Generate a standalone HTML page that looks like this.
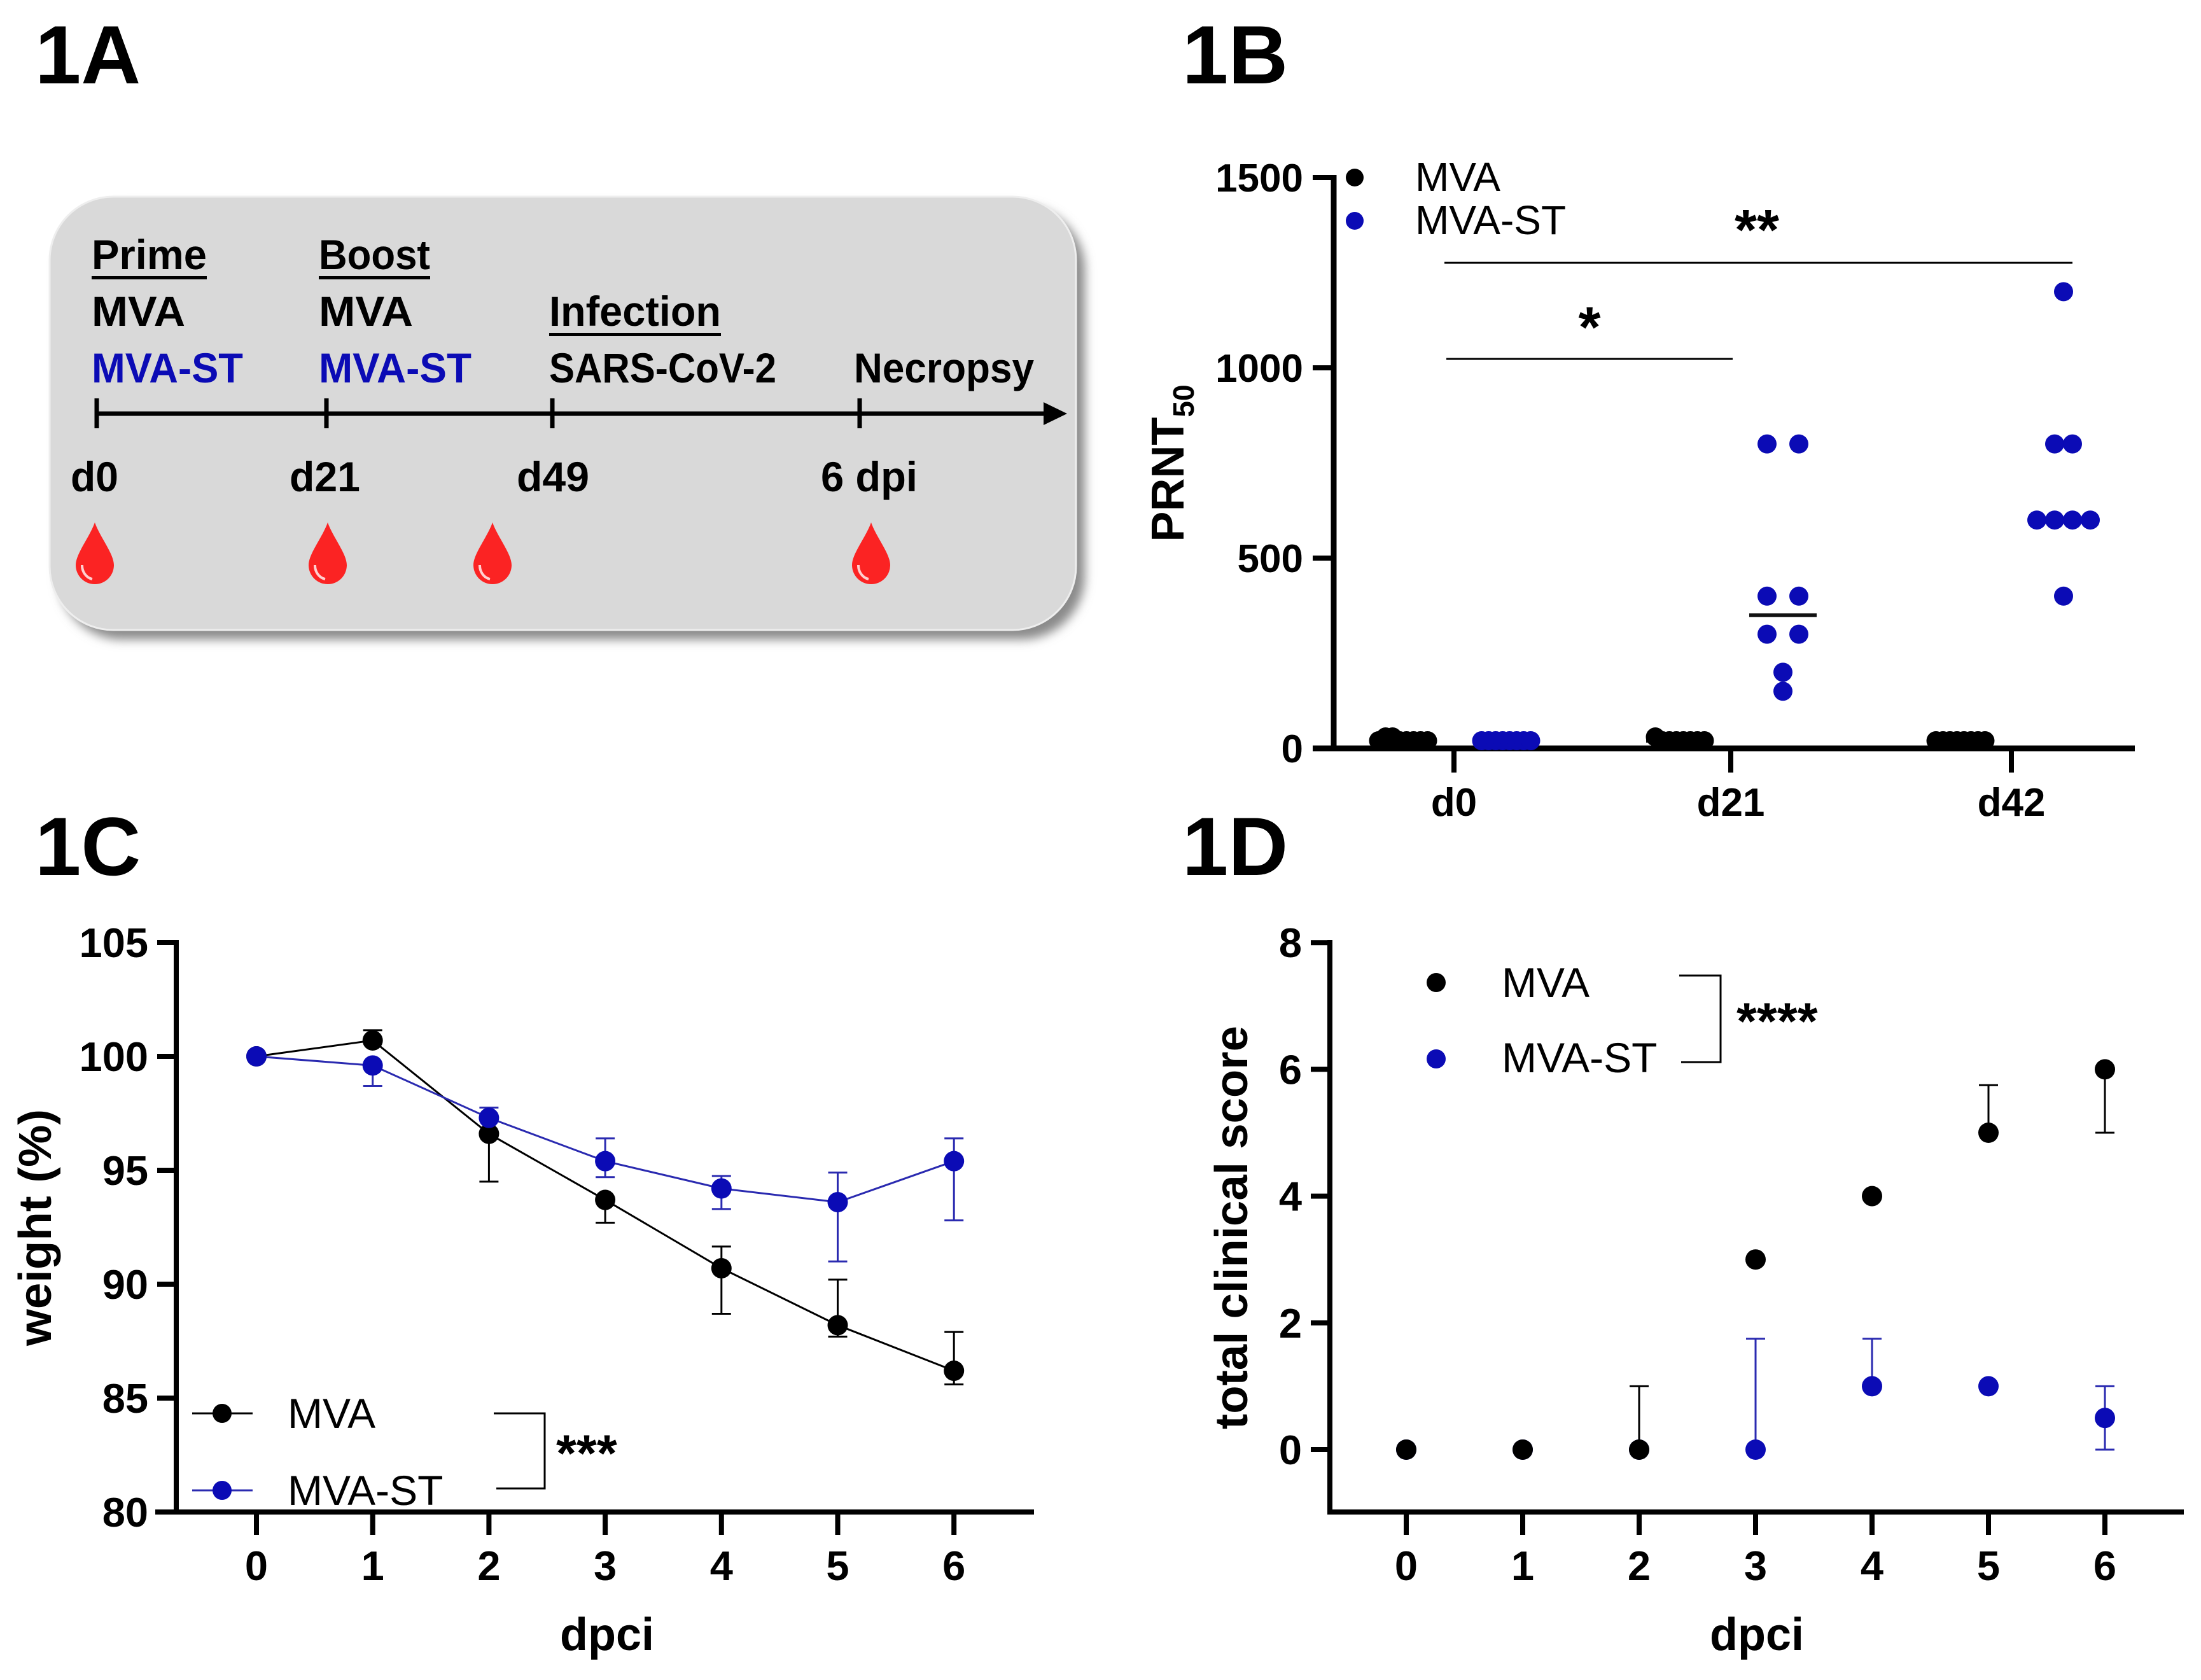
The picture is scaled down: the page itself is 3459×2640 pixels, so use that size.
<!DOCTYPE html>
<html><head><meta charset="utf-8"><style>
html,body{margin:0;padding:0;background:#fff;}
svg{display:block;font-family:"Liberation Sans",sans-serif;}
</style></head><body>
<svg id="fig" xmlns="http://www.w3.org/2000/svg" width="3459" height="2640" viewBox="0 0 3459 2640">
<defs>
<filter id="sh" x="-10%" y="-10%" width="130%" height="130%"><feGaussianBlur stdDeviation="8"/></filter>
</defs>
<!-- Panel A -->
<g>
<text x="55" y="131" font-size="130" font-weight="bold">1A</text>
<rect x="92" y="324" width="1613" height="681" rx="100" fill="#8a8a8a" filter="url(#sh)"/>
<rect x="78" y="309" width="1613" height="681" rx="100" fill="#d9d9d9" stroke="#eeeeee" stroke-width="3"/>
<g font-weight="bold" font-size="66">
<text x="144" y="423" textLength="181" lengthAdjust="spacingAndGlyphs">Prime</text>
<rect x="144" y="434" width="181" height="5"/>
<text x="501" y="423" textLength="175" lengthAdjust="spacingAndGlyphs">Boost</text>
<rect x="501" y="434" width="175" height="5"/>
<text x="144" y="512" textLength="147" lengthAdjust="spacingAndGlyphs">MVA</text>
<text x="501" y="512" textLength="148" lengthAdjust="spacingAndGlyphs">MVA</text>
<text x="863" y="512" textLength="270" lengthAdjust="spacingAndGlyphs">Infection</text>
<rect x="863" y="523" width="270" height="5"/>
<text x="144" y="601" fill="#0b0bb5" textLength="238" lengthAdjust="spacingAndGlyphs">MVA-ST</text>
<text x="501" y="601" fill="#0b0bb5" textLength="240" lengthAdjust="spacingAndGlyphs">MVA-ST</text>
<text x="863" y="601" textLength="357" lengthAdjust="spacingAndGlyphs">SARS-CoV-2</text>
<text x="1342" y="601" textLength="283" lengthAdjust="spacingAndGlyphs">Necropsy</text>
<text x="111" y="772" textLength="75" lengthAdjust="spacingAndGlyphs">d0</text>
<text x="455" y="772" textLength="111" lengthAdjust="spacingAndGlyphs">d21</text>
<text x="812" y="772" textLength="114" lengthAdjust="spacingAndGlyphs">d49</text>
<text x="1290" y="772" textLength="152" lengthAdjust="spacingAndGlyphs">6 dpi</text>
</g>
<line x1="152" y1="650" x2="1650" y2="650" stroke="#000" stroke-width="7"/>
<polygon points="1640,632 1677,650 1640,668" fill="#000"/>
<g stroke="#000" stroke-width="7">
<line x1="152" y1="626" x2="152" y2="673"/>
<line x1="513" y1="626" x2="513" y2="673"/>
<line x1="868" y1="626" x2="868" y2="673"/>
<line x1="1351" y1="626" x2="1351" y2="673"/>
</g>
<g id="drops"></g>
</g>
<!-- Panel labels -->
<text x="1858" y="131" font-size="130" font-weight="bold">1B</text>
<text x="55" y="1375" font-size="130" font-weight="bold">1C</text>
<text x="1858" y="1375" font-size="130" font-weight="bold">1D</text>
<g id="pb"></g>
<g id="pc"></g>
<g id="pd"></g>
</svg>
<script>
// ---------- Panel B data ----------
const bCategories = ['d0', 'd21', 'd42'];
const bMVA = [[20, 30, 30, 20, 20, 20, 20, 20], [30, 20, 20, 20, 20, 20, 20, 20], [20, 20, 20, 20, 20, 20, 20, 20]];
const bMVAST = [[20, 20, 20, 20, 20, 20, 20, 20], [800, 800, 400, 400, 300, 300, 200, 150], [1200, 800, 800, 600, 600, 600, 600, 400]];
const bYTicks = [0, 500, 1000, 1500];
// ---------- Panel C data ----------
const cDays = [0, 1, 2, 3, 4, 5, 6];
const cMVA = [100, 100.7, 96.6, 93.7, 90.7, 88.2, 86.2];
const cMVAUp = [0, 0.45, 0, 0, 0.95, 2.0, 1.7];
const cMVADown = [0, 0, 2.1, 1.0, 2.0, 0.5, 0.6];
const cMVAST = [100, 99.6, 97.3, 95.4, 94.2, 93.6, 95.4];
const cMVASTUp = [0, 0, 0.45, 1.0, 0.55, 1.3, 1.0];
const cMVASTDown = [0, 0.9, 0, 0.7, 0.9, 2.6, 2.6];
const cYTicks = [80, 85, 90, 95, 100, 105];
// ---------- Panel D data ----------
const dDays = [0, 1, 2, 3, 4, 5, 6];
const dMVA = [0, 0, 0, 3, 4, 5, 6];
const dMVAUp = [0, 0, 1, 0, 0, 0.75, 0];
const dMVADown = [0, 0, 0, 0, 0, 0, 1];
const dMVAST = [0, 0, 0, 0, 1, 1, 0.5];
const dMVASTUp = [0, 0, 0, 1.75, 0.75, 0, 0.5];
const dMVASTDown = [0, 0, 0, 0, 0, 0, 0.5];
const dYTicks = [0, 2, 4, 6, 8];

const NS = 'http://www.w3.org/2000/svg';
const BLUE = '#0b0bb5';
function mk(tag, attrs, parent) {
  const e = document.createElementNS(NS, tag);
  for (const k in attrs) e.setAttribute(k, attrs[k]);
  parent.appendChild(e);
  return e;
}

// ---------- drops ----------
const dropG = document.getElementById('drops');
[149, 515, 774, 1369].forEach(function (cx) {
  const g = mk('g', {transform: 'translate(' + cx + ',868)'}, dropG);
  
  
  const p = mk('path', {d: 'M0,-47 C8,-24 30,2 30,20 A30,30 0 0 1 -30,20 C-30,2 -8,-24 0,-47Z', fill: '#fb2323'}, g);
  
  
  const h = mk('path', {d: 'M-20,20 A20,22 0 0 0 -4,42', fill: 'none', stroke: '#ffd0d0', 'stroke-width': 4}, g);
  
  
});

// ---------- Panel B ----------
(function () {
  const P = document.getElementById('pb');
  const y0 = 1176, yTop = 279, xAxis = 2096;
  const yB = function (v) { return y0 - v * (y0 - yTop) / 1500; };
  const catX = [2285, 2720, 3161];
  const xB = function (i) { return catX[i]; };
  const spacing = [44, 50, 28];
  let e;
  e = mk('line', {x1: xAxis, y1: yTop - 4, x2: xAxis, y2: y0 + 4, stroke: '#000', 'stroke-width': 9}, P);
  
  
  e = mk('line', {x1: 2063, y1: y0, x2: 3355, y2: y0, stroke: '#000', 'stroke-width': 9}, P);
  
  
  bYTicks.forEach(function (t) {
    const tk = mk('line', {x1: 2063, y1: yB(t), x2: xAxis, y2: yB(t), stroke: '#000', 'stroke-width': 8}, P);
    
    
    const tl = mk('text', {x: 2048, y: yB(t) + 22, 'text-anchor': 'end', 'font-size': 62, 'font-weight': 'bold'}, P);
    
    
    tl.textContent = t;
  });
  bCategories.forEach(function (c, i) {
    const tk = mk('line', {x1: xB(i), y1: y0, x2: xB(i), y2: 1214, stroke: '#000', 'stroke-width': 8}, P);
    
    
    const tl = mk('text', {x: xB(i), y: 1282, 'text-anchor': 'middle', 'font-size': 62, 'font-weight': 'bold'}, P);
    
    
    tl.textContent = c;
  });
  const yl = mk('text', {transform: 'translate(1860,728) rotate(-90)', 'text-anchor': 'middle', 'font-size': 72, 'font-weight': 'bold'}, P);
  
  
  yl.innerHTML = 'PRNT<tspan font-size="46" dy="16">50</tspan>';

  function swarm(vals, cx, sp, color, name) {
    const sorted = vals.slice().sort(function (a, b) { return a - b; });
    const n = sorted.length;
    const med = n % 2 ? sorted[(n - 1) / 2] : (sorted[n / 2 - 1] + sorted[n / 2]) / 2;
    const m = mk('line', {x1: cx - 53, y1: yB(med), x2: cx + 53, y2: yB(med), stroke: '#111', 'stroke-width': 6}, P);
    
    
    const rows = {};
    vals.forEach(function (v) { const k = v < 60 ? 'low' : v; (rows[k] = rows[k] || []).push(v); });
    Object.keys(rows).forEach(function (k) {
      const r = rows[k];
      const s = k === 'low' ? 11 : sp;
      r.forEach(function (v, j) {
        const d = mk('circle', {cx: cx + (j - (r.length - 1) / 2) * s, cy: yB(v), r: 15, fill: color}, P);
        
        
      });
    });
  }
  bCategories.forEach(function (c, i) {
    swarm(bMVA[i], xB(i) - 80, spacing[i], '#000', 'b-mva-point');
    swarm(bMVAST[i], xB(i) + 82, spacing[i], BLUE, 'b-mva-st-point');
  });
  // legend
  e = mk('circle', {cx: 2129, cy: 279, r: 14, fill: '#000'}, P);
  
  
  e = mk('text', {x: 2224, y: 300, 'font-size': 64}, P);
  
  
  e.textContent = 'MVA';
  e = mk('circle', {cx: 2129, cy: 347, r: 14, fill: BLUE}, P);
  
  
  e = mk('text', {x: 2224, y: 368, 'font-size': 64}, P);
  
  
  e.textContent = 'MVA-ST';
  // significance
  e = mk('line', {x1: 2270, y1: 413, x2: 3257, y2: 413, stroke: '#000', 'stroke-width': 3}, P);
  
  
  e = mk('text', {x: 2761, y: 392, 'text-anchor': 'middle', 'font-size': 90, 'font-weight': 'bold'}, P);
  
  
  e.textContent = '**';
  e = mk('line', {x1: 2273, y1: 564, x2: 2723, y2: 564, stroke: '#000', 'stroke-width': 3}, P);
  
  
  e = mk('text', {x: 2498, y: 545, 'text-anchor': 'middle', 'font-size': 90, 'font-weight': 'bold'}, P);
  
  
  e.textContent = '*';
})();

// ---------- shared time-course axes ----------
function timeAxes(P, pre, opt) {
  let e;
  e = mk('line', {x1: opt.ax, y1: opt.yTop - 4, x2: opt.ax, y2: opt.yBot + 4, stroke: '#000', 'stroke-width': 8}, P);
  
  
  e = mk('line', {x1: opt.xl, y1: opt.yBot, x2: opt.xr, y2: opt.yBot, stroke: '#000', 'stroke-width': 8}, P);
  
  
  opt.yticks.forEach(function (t) {
    const tk = mk('line', {x1: opt.ax - 30, y1: opt.y(t), x2: opt.ax, y2: opt.y(t), stroke: '#000', 'stroke-width': 8}, P);
    
    
    const tl = mk('text', {x: opt.ax - 44, y: opt.y(t) + 23, 'text-anchor': 'end', 'font-size': 65, 'font-weight': 'bold'}, P);
    
    
    tl.textContent = t;
  });
  opt.days.forEach(function (d) {
    const tk = mk('line', {x1: opt.x(d), y1: opt.yBot, x2: opt.x(d), y2: opt.yBot + 36, stroke: '#000', 'stroke-width': 8}, P);
    
    
    const tl = mk('text', {x: opt.x(d), y: opt.yBot + 107, 'text-anchor': 'middle', 'font-size': 65, 'font-weight': 'bold'}, P);
    
    
    tl.textContent = d;
  });
  e = mk('text', {x: opt.xTitleX, y: 2593, 'text-anchor': 'middle', 'font-size': 72, 'font-weight': 'bold'}, P);
  
  
  e.textContent = 'dpci';
  e = mk('text', {transform: 'translate(' + opt.yTitleX + ',1929) rotate(-90)', 'text-anchor': 'middle', 'font-size': 72, 'font-weight': 'bold', textLength: opt.yTitleLen, lengthAdjust: 'spacingAndGlyphs'}, P);
  
  
  e.textContent = opt.yTitle;
}
function errBars(P, days, vals, up, down, x, y, color, name) {
  days.forEach(function (d, i) {
    [[up[i], 1], [down[i], -1]].forEach(function (pr) {
      if (pr[0] <= 0) return;
      const yy = y(vals[i] + pr[1] * pr[0]);
      const l = mk('line', {x1: x(d), y1: y(vals[i]), x2: x(d), y2: yy, stroke: color, 'stroke-width': 3}, P);
      
      
      const c = mk('line', {x1: x(d) - 15, y1: yy, x2: x(d) + 15, y2: yy, stroke: color, 'stroke-width': 3}, P);
      
      
    });
  });
}
function points(P, days, vals, x, y, color, name) {
  days.forEach(function (d, i) {
    const c = mk('circle', {cx: x(d), cy: y(vals[i]), r: 16, fill: color}, P);
    
    
  });
}

// ---------- Panel C ----------
(function () {
  const P = document.getElementById('pc');
  const xC = function (d) { return 403 + d * 182.7; };
  const yC = function (v) { return 2376 - (v - 80) * 35.8; };
  timeAxes(P, 'c', {ax: 277, yTop: 1481, yBot: 2376, xl: 244, xr: 1625, x: xC, y: yC, yticks: cYTicks, days: cDays, xTitleX: 954, yTitleX: 80, yTitle: 'weight (%)', yTitleLen: 372});
  let e;
  e = mk('polyline', {points: cDays.map(function (d, i) { return xC(d) + ',' + yC(cMVA[i]); }).join(' '), fill: 'none', stroke: '#000', 'stroke-width': 3}, P);
  
  
  errBars(P, cDays, cMVA, cMVAUp, cMVADown, xC, yC, '#000', 'c-mva-error-bar');
  points(P, cDays, cMVA, xC, yC, '#000', 'c-mva-point');
  e = mk('polyline', {points: cDays.map(function (d, i) { return xC(d) + ',' + yC(cMVAST[i]); }).join(' '), fill: 'none', stroke: '#2a2ab0', 'stroke-width': 3}, P);
  
  
  errBars(P, cDays, cMVAST, cMVASTUp, cMVASTDown, xC, yC, '#2a2ab0', 'c-mva-st-error-bar');
  points(P, cDays, cMVAST, xC, yC, BLUE, 'c-mva-st-point');
  // legend
  e = mk('line', {x1: 302, y1: 2221, x2: 397, y2: 2221, stroke: '#000', 'stroke-width': 3}, P);
  
  
  e = mk('circle', {cx: 349, cy: 2221, r: 15, fill: '#000'}, P);
  
  
  e = mk('text', {x: 452, y: 2244, 'font-size': 66}, P);
  
  
  e.textContent = 'MVA';
  e = mk('line', {x1: 302, y1: 2342, x2: 397, y2: 2342, stroke: '#2a2ab0', 'stroke-width': 3}, P);
  
  
  e = mk('circle', {cx: 349, cy: 2342, r: 15, fill: BLUE}, P);
  
  
  e = mk('text', {x: 452, y: 2365, 'font-size': 66}, P);
  
  
  e.textContent = 'MVA-ST';
  e = mk('polyline', {points: '776,2221 856,2221 856,2339 780,2339', fill: 'none', stroke: '#000', 'stroke-width': 3}, P);
  
  
  e = mk('text', {x: 874, y: 2312, 'font-size': 82, 'font-weight': 'bold'}, P);
  
  
  e.textContent = '***';
})();

// ---------- Panel D ----------
(function () {
  const P = document.getElementById('pd');
  const xD = function (d) { return 2210 + d * 183; };
  const yD = function (v) { return 2278 - v * 99.6; };
  timeAxes(P, 'd', {ax: 2090, yTop: 1481, yBot: 2376, xl: 2090, xr: 3432, x: xD, y: yD, yticks: dYTicks, days: dDays, xTitleX: 2761, yTitleX: 1960, yTitle: 'total clinical score', yTitleLen: 634});
  errBars(P, dDays, dMVAST, dMVASTUp, dMVASTDown, xD, yD, '#2a2ab0', 'd-mva-st-error-bar');
  points(P, dDays, dMVAST, xD, yD, BLUE, 'd-mva-st-point');
  errBars(P, dDays, dMVA, dMVAUp, dMVADown, xD, yD, '#000', 'd-mva-error-bar');
  points(P, dDays, dMVA, xD, yD, '#000', 'd-mva-point');
  let e;
  e = mk('circle', {cx: 2257, cy: 1544, r: 15, fill: '#000'}, P);
  
  
  e = mk('text', {x: 2360, y: 1567, 'font-size': 66}, P);
  
  
  e.textContent = 'MVA';
  e = mk('circle', {cx: 2257, cy: 1664, r: 15, fill: BLUE}, P);
  
  
  e = mk('text', {x: 2360, y: 1685, 'font-size': 66}, P);
  
  
  e.textContent = 'MVA-ST';
  e = mk('polyline', {points: '2639,1533 2704,1533 2704,1669 2642,1669', fill: 'none', stroke: '#000', 'stroke-width': 3}, P);
  
  
  e = mk('text', {x: 2729, y: 1633, 'font-size': 82, 'font-weight': 'bold'}, P);
  
  
  e.textContent = '****';
})();
</script>
</body></html>
